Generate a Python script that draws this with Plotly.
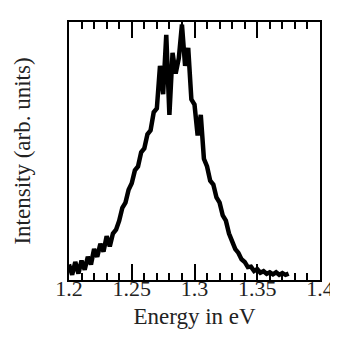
import plotly.graph_objects as go

energy = [1.2000, 1.2025, 1.2050, 1.2075, 1.2100, 1.2125, 1.2150, 1.2175, 1.2200, 1.2225,
          1.2250, 1.2275, 1.2300, 1.2325, 1.2350, 1.2375, 1.2400, 1.2425, 1.2450, 1.2475,
          1.2500, 1.2525, 1.2550, 1.2575, 1.2600, 1.2625, 1.2650, 1.2675, 1.2700, 1.2725,
          1.2750, 1.2775, 1.2800, 1.2825, 1.2850, 1.2875, 1.2900, 1.2925, 1.2950, 1.2975,
          1.3000, 1.3025, 1.3050, 1.3075, 1.3100, 1.3125, 1.3150, 1.3175, 1.3200, 1.3225,
          1.3250, 1.3275, 1.3300, 1.3325, 1.3350, 1.3375, 1.3400, 1.3425, 1.3450, 1.3475,
          1.3500, 1.3525, 1.3550, 1.3575, 1.3600, 1.3625, 1.3650, 1.3675, 1.3700, 1.3725,
          1.3750]
intensity = [0.060, 0.020, 0.070, 0.025, 0.075, 0.040, 0.090, 0.060, 0.120, 0.090,
             0.140, 0.110, 0.170, 0.130, 0.180, 0.195, 0.230, 0.280, 0.300, 0.350,
             0.375, 0.425, 0.440, 0.495, 0.510, 0.565, 0.580, 0.650, 0.665, 0.830,
             0.720, 0.950, 0.640, 0.880, 0.800, 0.860, 0.990, 0.830, 0.900, 0.700,
             0.680, 0.560, 0.640, 0.470, 0.440, 0.385, 0.370, 0.320, 0.300, 0.250,
             0.230, 0.180, 0.150, 0.120, 0.105, 0.080, 0.070, 0.050, 0.052, 0.035,
             0.042, 0.028, 0.034, 0.024, 0.030, 0.022, 0.030, 0.020, 0.027, 0.020,
             0.025]
x_ticks = [1.2, 1.25, 1.3, 1.35, 1.4]
x_tick_labels = ["1.2", "1.25", "1.3", "1.35", "1.4"]

fig = go.Figure()
fig.add_trace(go.Scatter(x=energy, y=intensity, mode="lines",
                         line=dict(color="black", width=4.5), showlegend=False))

family = "Liberation Serif, Times New Roman, serif"
tick_font = dict(family=family, color="#222", size=22)
title_font = dict(family=family, color="#222", size=23)
fig.update_layout(
    width=338, height=337,
    margin=dict(l=61, r=15, t=13, b=65),
    paper_bgcolor="white", plot_bgcolor="white",
    font=tick_font,
    xaxis=dict(range=[1.2, 1.4], tickvals=x_ticks, ticktext=x_tick_labels,
               ticks="inside", ticklen=16, tickwidth=1.5, tickcolor="black",
               minor=dict(dtick=0.01, ticks="inside", ticklen=7, tickwidth=1.5, tickcolor="black"),
               showline=True, linecolor="black", linewidth=1.5, mirror="allticks",
               showgrid=False, zeroline=False, tickfont=tick_font,
               ticklabelstandoff=-12,
               title=dict(text="Energy in eV", standoff=8, font=title_font)),
    yaxis=dict(range=[0, 1], showticklabels=False, ticks="",
               showline=True, linecolor="black", linewidth=1.5, mirror=True,
               showgrid=False, zeroline=False,
               title=dict(text="Intensity (arb. units)", standoff=30, font=title_font)),
)
fig.write_html("out.html")
